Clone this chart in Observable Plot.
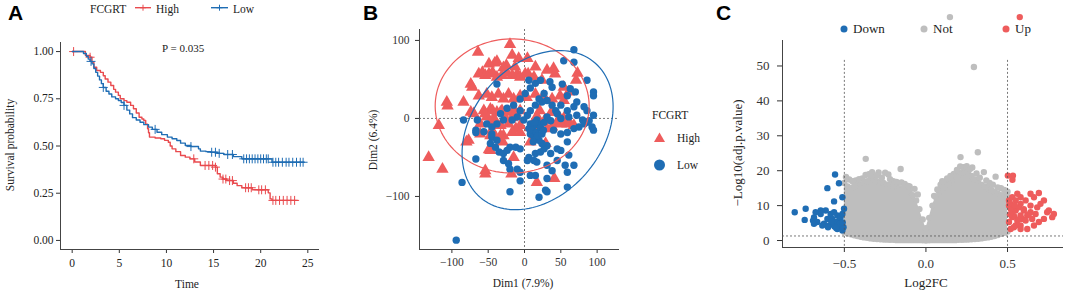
<!DOCTYPE html>
<html><head><meta charset="utf-8">
<script src="https://cdn.jsdelivr.net/npm/d3@7"></script>
<script src="https://cdn.jsdelivr.net/npm/@observablehq/plot@0.6"></script>
<style>
body{margin:0;background:#fff;}
#fig{position:relative;width:1072px;height:296px;overflow:hidden;background:#fff;}
#overlay{position:absolute;left:0;top:0;pointer-events:none;}
.pp, .pp text{font-family:'Liberation Serif','Times New Roman',serif !important;}
.pa text{font-size:11.5px !important;fill:#222;}
.pb text{font-size:11.5px !important;fill:#333;}
.pc text{font-size:13px !important;fill:#333;}
</style></head><body><div id="fig"></div>
<script>
// ---------------- Panel A: Kaplan-Meier ----------------
const kmGroups = ["High", "Low"];
const kmTimeTicks = [0, 5, 10, 15, 20, 25];
const kmSurvTicks = [0, 0.25, 0.5, 0.75, 1];
const kmHighTime = [0,1.4,1.9,2.1,2.3,2.6,3.0,3.3,3.5,3.8,4.1,4.4,4.6,4.9,5.1,5.5,5.8,6.2,6.5,6.8,7.1,7.4,7.6,7.8,8.0,8.1,8.2,8.8,9.4,9.8,10.2,10.4,10.6,11.0,11.5,12.0,12.5,13.0,13.6,15.2,15.4,15.7,16.0,16.4,17.1,17.5,18.0,19.1,20.8,21.0,21.2,23.9];
const kmHighSurv = [1,.98,.97,.945,.917,.9,.89,.872,.855,.838,.82,.8,.785,.768,.75,.74,.732,.715,.697,.675,.652,.643,.635,.615,.591,.57,.547,.542,.538,.53,.52,.5,.485,.47,.45,.441,.432,.415,.397,.388,.353,.335,.325,.317,.303,.29,.279,.268,.252,.22,.212,.212];
const kmLowTime = [0,1.2,1.5,1.7,1.9,2.1,2.3,2.5,2.7,2.9,3.1,3.3,3.6,3.9,4.2,4.6,4.9,5.2,5.5,5.8,6.1,6.4,6.8,7.2,7.6,8.1,8.5,9.0,9.5,10.1,10.6,11.1,11.5,12.0,12.6,13.4,13.6,14.2,14.7,15.4,16.1,17.1,18.0,21.2,24.6];
const kmLowSurv = [1,.99,.975,.96,.948,.935,.91,.89,.87,.85,.83,.81,.79,.775,.76,.75,.741,.73,.715,.69,.67,.65,.638,.626,.613,.60,.588,.573,.56,.547,.538,.529,.515,.503,.497,.485,.473,.47,.467,.461,.455,.444,.432,.414,.414];
const kmHighCensor = [0.15,1.9,12.9,14.1,14.5,14.9,15.2,16.0,16.3,16.7,17.0,18.4,18.7,19.0,19.8,20.1,20.5,21.3,21.6,22.0,22.4,22.8,23.2,23.6];
const kmLowCensor = [2.0,3.3,5.5,8.8,12.6,14.8,15.2,15.6,16.5,17.0,18.2,18.5,18.8,19.1,19.4,19.7,20.0,20.3,20.6,20.8,21.3,21.6,21.9,22.3,22.7,23.0,23.4,23.8,24.2,24.5];
const pValueText = "P = 0.035";

// ---------------- Panel B: PCA ----------------
const pcaGroups = ["High", "Low"];
const pcaXTicks = [-100, -50, 0, 50, 100];
const pcaYTicks = [-100, 0, 100];
const highDim1 = [-20,-64,-41,-38,-49,-25,-17,-8,4,15,-63,-58,-54,-49,-44,-38,-31,-24,-17,-10,-6,1,13,24,31,40,42,73,71,-29,-13,5,-74,-72,-84,-107,-106,-118,-63,-52,-45,-36,-29,-22,-15,-6,3,15,26,38,54,61,54,49,-70,-56,-47,-38,-31,-24,-15,-52,-42,-26,-17,17,21,28,37,49,53,60,44,10,-6,-33,-45,-29,-40,-74,-54,-44,-33,-12,-6,17,38,54,59,50,68,-61,-47,-38,-22,-12,-17,-33,-61,-47,-6,8,31,38,-77,-47,-15,29,8,-132,-113,-54,-54,17,41,-18,-49,-80,-30];
const highDim2 = [95,85,71,73,70,68,81,77,77,66,57,59,55,57,59,53,55,58,55,57,53,57,53,49,62,64,57,58,49,65,66,57,44,40,21,21,16,-9,29,31,27,31,25,31,25,29,27,31,29,25,40,34,23,29,6,10,12,8,10,8,10,2,0,0,1,0,10,-2,8,0,-4,-2,-6,-9,-9,-9,-15,-22,-24,8,6,10,8,7,10,3,8,0,-7,-7,-9,-7,-5,-9,-7,-13,-18,-22,-20,-22,-18,-12,-13,-11,-28,-41,-50,-32,-30,-50,-65,-67,-71,-82,-77,-71,-40,-30,-30];
const lowDim1 = [68,54,68,86,95,95,-38,-84,6,15,8,1,-6,-15,-24,-33,22,35,38,52,63,59,70,72,82,86,68,50,59,43,38,31,24,20,27,15,8,4,-6,-10,-17,-29,-38,-45,-52,-65,-67,-56,-1,8,17,31,45,50,61,72,80,86,93,95,-67,-45,-45,-38,-47,-40,-35,-29,-29,-20,-24,-12,-6,-22,-20,-10,-6,6,4,13,17,15,22,27,31,24,20,13,8,6,13,20,27,36,40,50,59,68,75,82,89,95,59,45,31,38,59,31,15,56,68,50,61,59,29,31,20,-20,-67,-86,8,-6,45,36,-94,10,16,22,18,12,24,14,26];
const lowDim2 = [88,74,72,49,34,29,44,-2,49,45,39,32,25,17,13,6,49,47,40,44,38,29,34,21,15,10,15,17,10,10,17,23,21,25,32,17,10,4,10,2,-2,-2,-7,-11,-7,-2,-15,-17,-2,-7,-2,2,6,0,2,4,-2,-5,-11,4,-18,-20,-24,-28,-32,-37,-43,-45,-54,-37,-41,-37,-39,-58,-65,-65,-69,-50,-54,-54,-56,-45,-43,-39,-35,-32,-28,-24,-20,-13,-9,-7,-5,-3,-15,-20,-18,-13,-11,-7,-3,-15,-30,-54,-60,-67,-69,-77,-73,-60,-60,-41,-47,-88,-92,-94,-101,-94,-52,-82,-73,-80,-39,-45,-156,-15,-18,-12,-22,-30,-20,-5,-15];
// 95% ellipse parameters per group: centre, horizontal half-width, vertical cos/sin terms
const ellipseCx = [-17, 18];
const ellipseCy = [16, -15];
const ellipseAx = [106, 104];
const ellipseP  = [0, 30];
const ellipseQ  = [86, 97.5];

// ---------------- Panel C: volcano ----------------
const volGroups = ["Down", "Not", "Up"];
const volXTicks = [-0.5, 0, 0.5];
const volYTicks = [0, 10, 20, 30, 40, 50];
const fcCut = [-0.5, 0.5];
const pCut = 1.3;
const downX = [-0.804,-0.737,-0.743,-0.686,-0.692,-0.645,-0.614,-0.557,-0.533,-0.604,-0.563,-0.512,-0.502,-0.584,-0.563,-0.543,-0.574,-0.553,-0.533,-0.523,-0.543,-0.512,-0.625,-0.604,-0.635,-0.666,-0.686,-0.594,-0.645,-0.676,-0.523,-0.512,-0.56,-0.52,-0.58,-0.505,-0.53,-0.55,-0.6,-0.51];
const downY = [8.1,9.1,5.9,6.6,5.7,8.6,8.6,18.9,16.4,15,11.2,12.4,9.1,7.6,8.1,7.2,6.2,5.3,5.7,4.3,3.3,2.9,4.8,6.2,4.3,5.3,4.8,4.3,7.6,8.1,6.7,7.6,4,5,5.5,3.8,4.8,3.6,3.8,5.2];
const upX = [0.502,0.533,0.53,0.692,0.753,0.784,0.774,0.723,0.662,0.621,0.58,0.539,0.509,0.529,0.55,0.58,0.611,0.641,0.682,0.672,0.621,0.59,0.56,0.529,0.509,0.509,0.529,0.56,0.58,0.662,0.641,0.6,0.641,0.702,0.723,0.743,0.692,0.651,0.58,0.55,0.519,0.58,0.611,0.519,0.55,0.575,0.52,0.54,0.57,0.6,0.63,0.515,0.545,0.565];
const upY = [18.6,18.6,17.4,13.6,8.6,7.6,6.7,6.2,4.3,3.3,4.3,3.8,5.3,6.7,8.6,10.5,11.5,10,9.5,7.6,7.2,6.2,5.7,8.1,10,11.5,12.4,13.4,12.4,12.4,13.4,8.6,8.1,10.5,11.5,8.1,5.3,6.2,7.2,4.3,3.3,3.3,5.7,10.5,11.5,64,9,7,9.5,9,7.5,7.5,10,6];
const notOutX = [-0.369,-0.155,-0.25,-0.23,-0.328,-0.43,-0.39,0.212,0.318,0.21,0.243,0.284,0.355,0.427,0.171,0.147,0.294,-0.47,-0.2,-0.1,0.1,0.39,0.46,-0.29,
  -0.49,-0.45,-0.41,-0.37,-0.35,-0.33,-0.3,-0.27,-0.22,-0.18,-0.15,-0.13,-0.11,-0.07,-0.05,0.05,0.07,0.09,0.11,0.13,0.15,0.19,0.23,0.25,0.27,0.31,0.33,0.37,0.41,0.44,0.48,0.5];
const notOutY = [23.4,20.5,19.4,18.9,18.6,17.2,17.8,23.9,25.3,21.2,20.9,20.9,19.6,18.3,19.1,64,49.7,17.5,17,15.5,17,16.5,15,19.5,
  18.2,17,17.6,18.8,19,19.6,18.7,18,17.6,16.8,16.6,16.2,15.6,14.8,13.2,12.8,14.6,16,16.8,17.8,18.5,20.2,21,21.3,20.5,19.2,18,17.2,16,15.2,14.5,14];
// dense "Not" cloud: upper and lower edges
const notEnvX = [-0.5,-0.48,-0.46,-0.44,-0.42,-0.4,-0.38,-0.36,-0.34,-0.32,-0.3,-0.28,-0.26,-0.24,-0.22,-0.2,-0.18,-0.16,-0.14,-0.12,-0.1,-0.08,-0.06,-0.04,-0.02,0,0.02,0.04,0.06,0.08,0.1,0.12,0.14,0.16,0.18,0.2,0.22,0.24,0.26,0.28,0.3,0.32,0.34,0.36,0.38,0.4,0.42,0.44,0.46,0.48,0.5];
const notEnvTop = [16.5,15.5,15,15.5,16,16,16.5,17,17.5,17.5,17,16.5,16.5,16,16,15.5,15.5,15,15,14.5,14,13,11.5,9,6,3.5,6.5,10,12.5,14,15,16,16.5,17.5,18.5,19,19.5,19.5,19,18.5,17.5,16.5,16,15.5,15,14.5,14,13.5,13,13,12.5];
const notEnvBottom = [2.4,2.1,1.8,1.5,1.3,1.1,0.9,0.8,0.6,0.5,0.4,0.35,0.3,0.25,0.2,0.2,0.1,0.1,0.1,0.1,0.1,0.1,0.1,0.1,0.05,0,0.05,0.1,0.1,0.1,0.1,0.1,0.1,0.1,0.1,0.2,0.2,0.25,0.3,0.35,0.4,0.5,0.6,0.8,0.9,1.1,1.3,1.6,1.9,2.2,2.6];

// ---------------- styling ----------------
const RED_KM = "#E94A4E", BLUE = "#1F6DB4", RED = "#EE5C5C", GREY = "#BEBEBE", AXIS = "#444";
const serif = "'Liberation Serif','Times New Roman',serif";
const sans = "'Liberation Sans',Arial,sans-serif";
const fig = document.getElementById("fig");
function place(svg, left, cls) {
  svg.classList.add("pp", cls);
  svg.style.position = "absolute"; svg.style.left = left + "px"; svg.style.top = "0px";
  svg.style.overflow = "visible"; svg.style.background = "transparent";
  fig.appendChild(svg);
}
const baseStyle = (fs) => ({fontFamily: serif, fontSize: fs, color: "#333", background: "transparent", overflow: "visible"});

// ---- A ----
const survAt = (T, S, t) => { let v = S[0]; for (let i = 0; i < T.length; i++) if (T[i] <= t) v = S[i]; return v; };
const kmHigh = kmHighTime.map((t, i) => ({t, s: kmHighSurv[i]}));
const kmLow = kmLowTime.map((t, i) => ({t, s: kmLowSurv[i]}));
const cenHigh = kmHighCensor.map(t => ({t, s: survAt(kmHighTime, kmHighSurv, t)}));
const cenLow = kmLowCensor.map(t => ({t, s: survAt(kmLowTime, kmLowSurv, t)}));
const xA = [-1.24, 26.24], yA = [-0.048, 1.048];
place(Plot.plot({
  width: 340, height: 296, marginLeft: 60, marginRight: 21, marginTop: 42, marginBottom: 47,
  style: baseStyle("11.5px"),
  x: {domain: xA, ticks: kmTimeTicks, tickSize: 4, tickPadding: 5, label: null},
  y: {domain: yA, ticks: kmSurvTicks, tickFormat: d3.format(".2f"), tickSize: 4, tickPadding: 3, label: null},
  marks: [
    Plot.ruleX([xA[0]], {stroke: AXIS}),
    Plot.ruleY([yA[0]], {stroke: AXIS}),
    Plot.line(kmHigh, {x: "t", y: "s", curve: "step-after", stroke: RED_KM, strokeWidth: 1.4}),
    Plot.dot(cenHigh, {x: "t", y: "s", symbol: "plus", r: 3, stroke: RED_KM, strokeWidth: 1}),
    Plot.line(kmLow, {x: "t", y: "s", curve: "step-after", stroke: BLUE, strokeWidth: 1.4}),
    Plot.dot(cenLow, {x: "t", y: "s", symbol: "plus", r: 3, stroke: BLUE, strokeWidth: 1})
  ]
}), 0, "pa");

// ---- B ----
const highPts = highDim1.map((x, i) => ({x, y: highDim2[i]}));
const lowPts = lowDim1.map((x, i) => ({x, y: lowDim2[i]}));
const ellipse = (g) => d3.range(0, 2 * Math.PI + 0.05, 0.05).map(t => ({
  x: ellipseCx[g] + ellipseAx[g] * Math.cos(t),
  y: ellipseCy[g] + ellipseP[g] * Math.cos(t) + ellipseQ[g] * Math.sin(t)
}));
const xB = [-144.6, 130.8], yB = [-168, 114];
place(Plot.plot({
  width: 340, height: 296, marginLeft: 59, marginRight: 81, marginTop: 29, marginBottom: 47,
  style: baseStyle("11.5px"),
  x: {domain: xB, ticks: pcaXTicks, tickSize: 4, tickPadding: 4, label: null},
  y: {domain: yB, ticks: pcaYTicks, tickSize: 4, tickPadding: 6, label: null},
  marks: [
    Plot.ruleX([xB[0]], {stroke: AXIS}),
    Plot.ruleY([yB[0]], {stroke: AXIS}),
    Plot.ruleX([0], {stroke: "#555", strokeDasharray: "2,2", strokeWidth: 0.8}),
    Plot.ruleY([0], {stroke: "#555", strokeDasharray: "2,2", strokeWidth: 0.8}),
    Plot.dot(highPts, {x: "x", y: "y", symbol: "triangle", r: 4.6, fill: RED}),
    Plot.dot(lowPts, {x: "x", y: "y", r: 3.7, fill: BLUE}),
    Plot.line(ellipse(0), {x: "x", y: "y", stroke: RED, strokeWidth: 1.2}),
    Plot.line(ellipse(1), {x: "x", y: "y", stroke: BLUE, strokeWidth: 1.2})
  ]
}), 360, "pb");

// ---- C ----
const notEnv = notEnvX.map((x, i) => ({x, hi: notEnvTop[i], lo: notEnvBottom[i]}));
const notOut = notOutX.map((x, i) => ({x, y: notOutY[i]}));
const downPts = downX.map((x, i) => ({x, y: downY[i]}));
const upPts = upX.map((x, i) => ({x, y: upY[i]}));
const xC = [-0.879, 0.843], yC = [-2.0, 57.3];
const vlineTop = 51.6;
place(Plot.plot({
  width: 372, height: 296, marginLeft: 82, marginRight: 9, marginTop: 40, marginBottom: 49,
  style: baseStyle("13px"),
  x: {domain: xC, ticks: volXTicks, tickFormat: d3.format(".1f"), tickSize: 5, tickPadding: 6, label: null},
  y: {domain: yC, ticks: volYTicks, tickSize: 5, tickPadding: 8, label: null},
  marks: [
    Plot.ruleX([xC[0]], {stroke: AXIS}),
    Plot.ruleY([yC[0]], {stroke: AXIS}),
    Plot.areaY(notEnv, {x: "x", y1: "lo", y2: "hi", fill: GREY}),
    Plot.dot(notEnv, {x: "x", y: "hi", r: 3.2, fill: GREY}),
    Plot.dot(notEnv, {x: "x", y: "lo", r: 3.2, fill: GREY}),
    Plot.dot(notOut, {x: "x", y: "y", r: 3.2, fill: GREY}),
    Plot.dot(downPts, {x: "x", y: "y", r: 3.2, fill: BLUE}),
    Plot.dot(upPts, {x: "x", y: "y", r: 3.2, fill: RED}),
    Plot.ruleX(fcCut, {y1: vlineTop, y2: yC[0], stroke: "#555", strokeDasharray: "2,2", strokeWidth: 0.8}),
    Plot.ruleY([pCut], {stroke: "#555", strokeDasharray: "2,2", strokeWidth: 0.8})
  ]
}), 700, "pc");

// ---------------- overlay texts & legends ----------------
const ov = d3.select(fig).append("svg").attr("id", "overlay").attr("width", 1072).attr("height", 296);
function txt(x, y, s, o = {}) {
  const t = ov.append("text").attr("x", x).attr("y", y).text(s)
    .attr("font-family", o.ff || serif).attr("font-size", o.fs || 11.5)
    .attr("fill", o.fill || "#222").attr("text-anchor", o.anchor || "start");
  if (o.bold) t.attr("font-weight", "bold");
  if (o.rot) t.attr("transform", `rotate(-90 ${x} ${y})`);
  return t;
}
// panel letters
txt(8, 20, "A", {ff: sans, fs: 21, bold: true, fill: "#000"});
txt(363, 20, "B", {ff: sans, fs: 21, bold: true, fill: "#000"});
txt(716, 20, "C", {ff: sans, fs: 21, bold: true, fill: "#000"});
// A
txt(90, 12.5, "FCGRT", {fs: 11.5});
const plusPath = (cx, cy, h) => `M${cx - h},${cy}H${cx + h}M${cx},${cy - h}V${cy + h}`;
[[135, 151, RED_KM, 156], [211, 228, BLUE, 233]].forEach(([a, b, c, tx], i) => {
  ov.append("line").attr("x1", a).attr("x2", b).attr("y1", 7.7).attr("y2", 7.7).attr("stroke", c).attr("stroke-width", 1.4);
  ov.append("path").attr("d", plusPath((a + b) / 2, 7.7, 3)).attr("stroke", c).attr("stroke-width", 1);
  txt(tx, 12.5, kmGroups[i], {fs: 11.5});
});
txt(162, 52, pValueText, {fs: 11});
txt(14, 145, "Survival probability", {fs: 11.5, anchor: "middle", rot: true});
txt(187, 288, "Time", {fs: 11.5, anchor: "middle"});
// B
txt(377, 140, "Dim2 (6.4%)", {fs: 11.5, anchor: "middle", rot: true});
txt(523, 287, "Dim1 (7.9%)", {fs: 11.5, anchor: "middle"});
txt(652, 119, "FCGRT", {fs: 11.5});
ov.append("path").attr("d", "M659.5,132.5L665,142L654,142Z").attr("fill", RED);
txt(677, 142, pcaGroups[0], {fs: 11.5});
ov.append("circle").attr("cx", 659.5).attr("cy", 165).attr("r", 5.5).attr("fill", BLUE);
txt(677, 169, pcaGroups[1], {fs: 11.5});
// C
[[844, BLUE], [924, GREY], [1006, RED]].forEach(([cx, c], i) => {
  ov.append("circle").attr("cx", cx).attr("cy", 29).attr("r", 3.5).attr("fill", c);
  txt(cx + 9, 33, volGroups[i], {fs: 13});
});
txt(742, 153, "\u2212Log10(adj.p.value)", {fs: 13, anchor: "middle", rot: true});
txt(926, 287, "Log2FC", {fs: 13, anchor: "middle"});
</script></body></html>
